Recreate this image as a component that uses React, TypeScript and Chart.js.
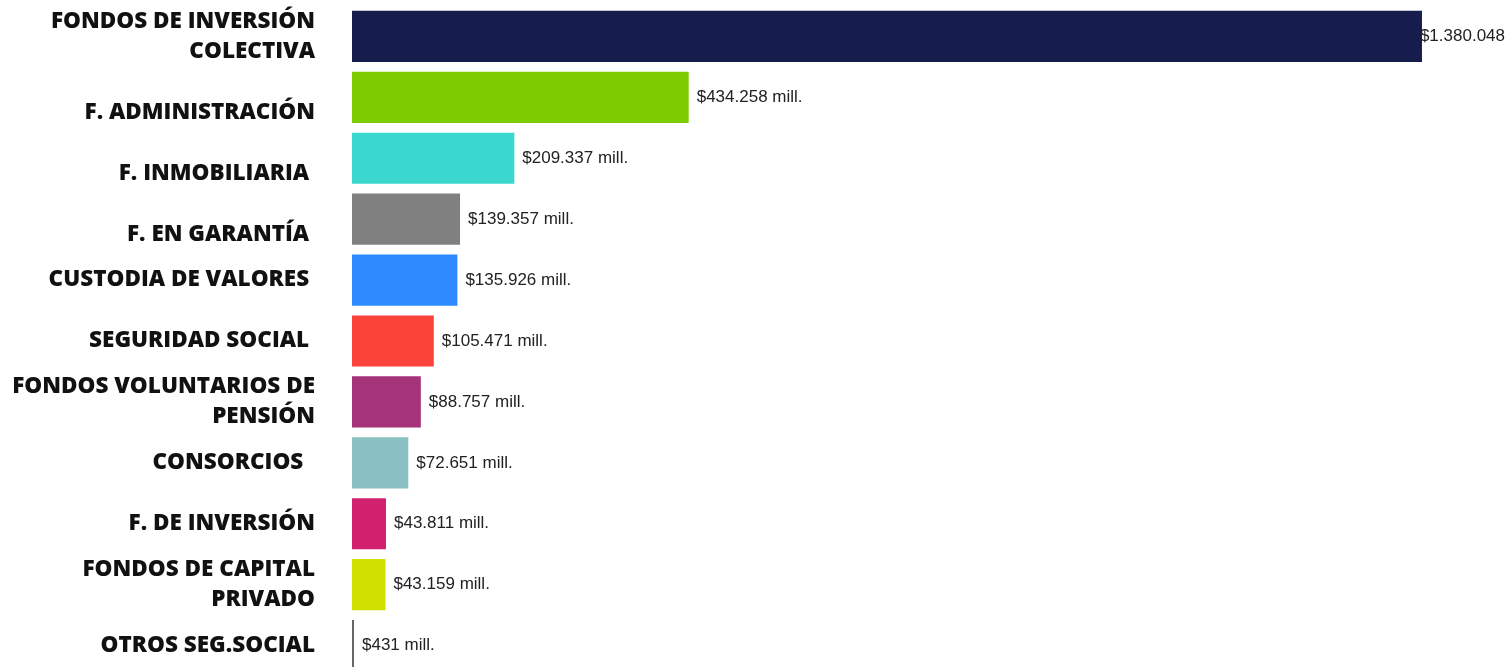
import React, { useEffect, useRef } from "react";
import { Chart, registerables } from "chart.js";

Chart.register(...registerables);

const CATEGORIES: (string | string[])[] = [
  ["FONDOS DE INVERSIÓN", "COLECTIVA"],
  ["", "F. ADMINISTRACIÓN"],
  ["", "F. INMOBILIARIA "],
  ["", "F. EN GARANTÍA "],
  "CUSTODIA DE VALORES ",
  "SEGURIDAD SOCIAL ",
  ["FONDOS VOLUNTARIOS DE", "PENSIÓN"],
  "CONSORCIOS  ",
  "F. DE INVERSIÓN",
  ["FONDOS DE CAPITAL", "PRIVADO"],
  "OTROS SEG.SOCIAL",
];

const VALUES = [1380048, 434258, 209337, 139357, 135926, 105471, 88757, 72651, 43811, 43159, 431];

const VALUE_LABELS = [
  "$1.380.048",
  "$434.258 mill.",
  "$209.337 mill.",
  "$139.357 mill.",
  "$135.926 mill.",
  "$105.471 mill.",
  "$88.757 mill.",
  "$72.651 mill.",
  "$43.811 mill.",
  "$43.159 mill.",
  "$431 mill.",
];

const COLORS = [
  "#161d4d",
  "#7ccc00",
  "#3ad7cf",
  "#808080",
  "#2e8bff",
  "#fb433a",
  "#a5337a",
  "#8bc0c2",
  "#d1206e",
  "#d2e000",
  "#666666",
];

const X_MAX = 1491000;

const valueLabelPlugin = {
  id: "valueLabels",
  afterDatasetsDraw(chart: any) {
    const ctx = chart.ctx;
    const meta = chart.getDatasetMeta(0);
    ctx.save();
    ctx.font = "17px 'Liberation Sans', Arial, sans-serif";
    ctx.fillStyle = "#222";
    ctx.textBaseline = "middle";
    ctx.textAlign = "left";
    meta.data.forEach((bar: any, i: number) => {
      const text = VALUE_LABELS[i];
      const w = ctx.measureText(text).width;
      const x = Math.min(bar.x + 8, chart.width - w - 3);
      ctx.fillText(text, x, bar.y);
    });
    ctx.restore();
  },
};

export default function App() {
  const ref = useRef<HTMLCanvasElement | null>(null);

  useEffect(() => {
    document.body.style.margin = "0";
    if (!ref.current) return;
    const chart = new Chart(ref.current, {
      type: "bar",
      data: {
        labels: CATEGORIES,
        datasets: [
          {
            data: VALUES,
            backgroundColor: COLORS,
            borderWidth: 0,
            barPercentage: 0.84,
            categoryPercentage: 1,
            minBarLength: 2,
          },
        ],
      },
      options: {
        indexAxis: "y",
        animation: false,
        responsive: false,
        maintainAspectRatio: false,
        layout: { padding: { top: 6, bottom: 4, left: 0, right: 0 } },
        plugins: {
          legend: { display: false },
          tooltip: { enabled: false },
        },
        scales: {
          x: {
            display: false,
            min: 0,
            max: X_MAX,
          },
          y: {
            afterFit: (scale: any) => {
              scale.width = 352;
              scale.paddingTop = 0;
              scale.paddingBottom = 0;
            },
            grid: { display: false, drawTicks: false },
            border: { display: false },
            ticks: {
              padding: 37,
              color: "#111",
              font: {
                family: "'Open Sans', sans-serif",
                size: 22.5,
                weight: "800",
                lineHeight: 1.33,
              },
              autoSkip: false,
            },
          },
        },
      },
      plugins: [valueLabelPlugin],
    });
    return () => chart.destroy();
  }, []);

  return (
    <div
      style={{
        position: "absolute",
        top: 0,
        left: 0,
        width: 1508,
        height: 667,
        overflow: "hidden",
        background: "#fff",
      }}
    >
      <canvas ref={ref} width={1508} height={680} style={{ display: "block" }} />
    </div>
  );
}
